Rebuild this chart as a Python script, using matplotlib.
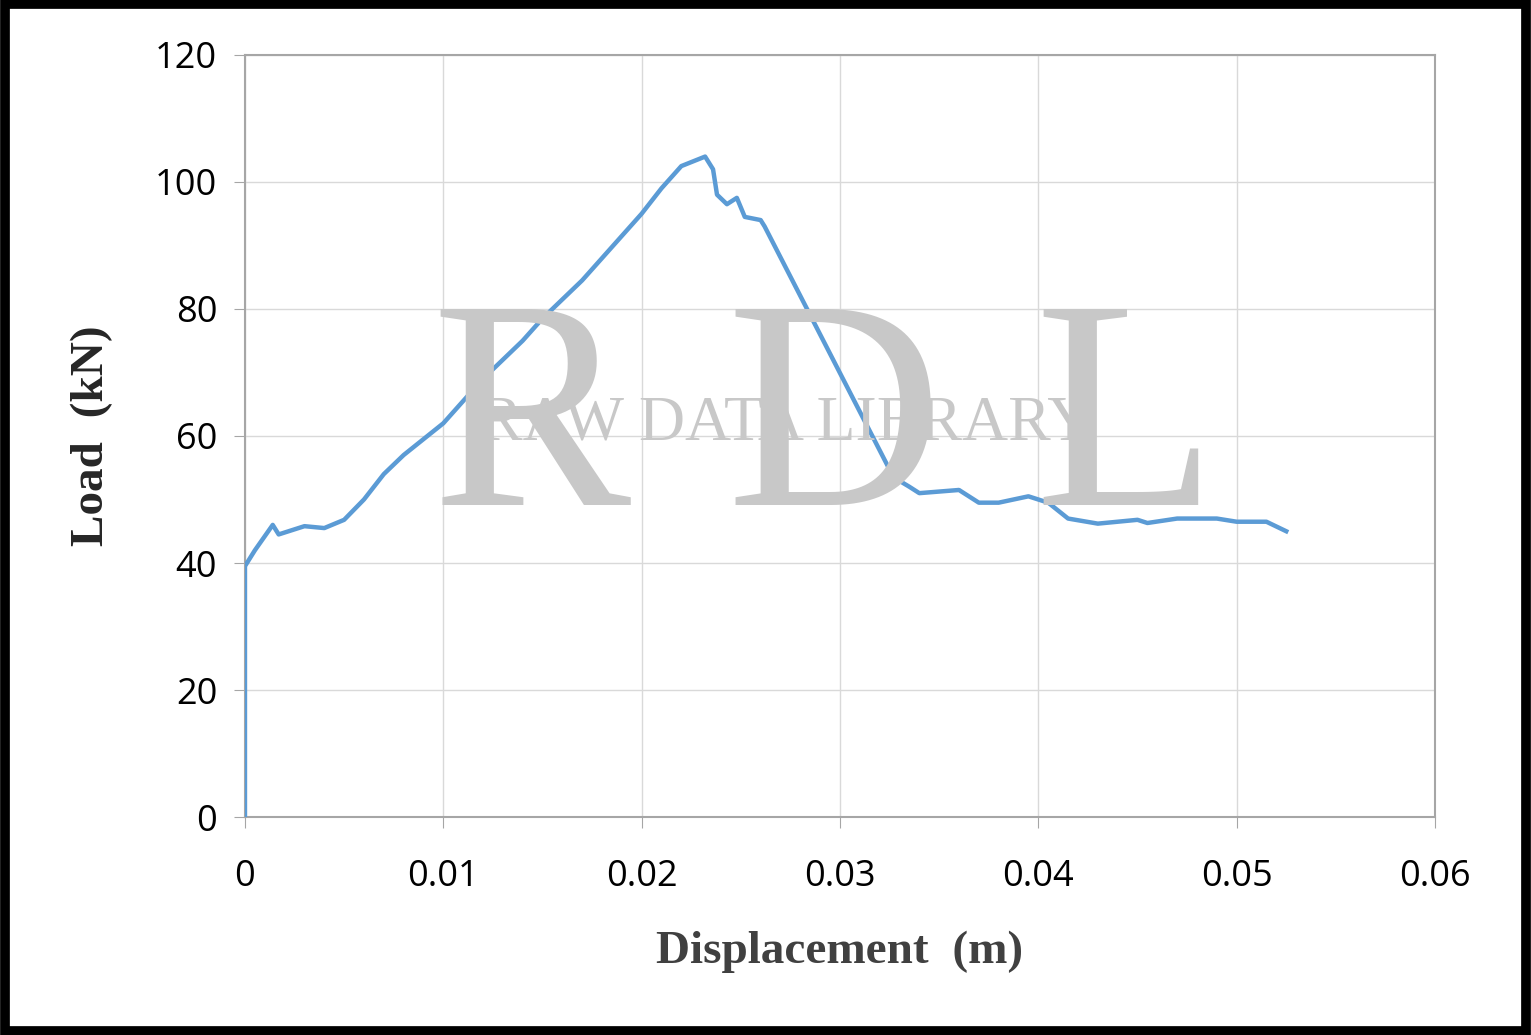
import matplotlib.pyplot as plt
from matplotlib.patches import Rectangle

disp = [0, 0, 0.0005, 0.0014, 0.0017, 0.003, 0.004, 0.005, 0.006, 0.007, 0.008, 0.009,
        0.010, 0.011, 0.012, 0.013, 0.014, 0.015, 0.016, 0.017, 0.018, 0.019, 0.020,
        0.021, 0.022, 0.0232, 0.0236, 0.0238, 0.0243, 0.0248, 0.0252, 0.026, 0.0262,
        0.0327, 0.0335, 0.034, 0.036, 0.0365, 0.037, 0.038, 0.0395, 0.0405, 0.0415,
        0.043, 0.045, 0.0455, 0.047, 0.049, 0.050, 0.0515, 0.0525]
load = [0, 39.5, 42, 46, 44.5, 45.8, 45.5, 46.8, 50, 54, 57, 59.5,
        62, 65.5, 69, 72, 75, 78.5, 81.5, 84.5, 88, 91.5, 95,
        99, 102.5, 104, 102, 98, 96.5, 97.5, 94.5, 94, 93,
        53.5, 52, 51, 51.5, 50.5, 49.5, 49.5, 50.5, 49.5, 47,
        46.2, 46.8, 46.3, 47, 47, 46.5, 46.5, 45]

plt.rcParams['font.family'] = ['Open Sans', 'DejaVu Sans']
fig = plt.figure(figsize=(15.31, 10.35), dpi=100)
ax = fig.add_axes([0.16, 0.2106, 0.7773, 0.7363])

# watermark
for letter, xf in [('R', 0.347), ('D', 0.545), ('L', 0.735)]:
    fig.text(xf, 0.512, letter, fontsize=215, family='Liberation Serif', color='#c8c8c8',
             ha='center', va='baseline', zorder=0)
fig.text(0.514, 0.575, 'RAW DATA LIBRARY', fontsize=46, family='Liberation Serif',
         color='#c8c8c8', ha='center', va='baseline', zorder=0)
ax.patch.set_alpha(0)

ax.plot(disp, load, color='#5b9bd5', lw=3.2, zorder=3)
ax.set_xlim(0, 0.06)
ax.set_ylim(0, 120)
ax.set_xticks([0, 0.01, 0.02, 0.03, 0.04, 0.05, 0.06])
ax.set_xticklabels(['0', '0.01', '0.02', '0.03', '0.04', '0.05', '0.06'])
ax.set_yticks(range(0, 121, 20))
ax.grid(color='#d9d9d9', lw=1)
for s in ax.spines.values():
    s.set_color('#a6a6a6')
    s.set_linewidth(1.5)
ax.tick_params(labelsize=26, length=8, color='#a6a6a6', pad=12)
ax.tick_params(axis='x', pad=22)
ax.set_xlabel('Displacement  (m)', fontsize=34, family='Liberation Serif',
              fontweight='bold', color='#404040', labelpad=26)
ax.set_ylabel('Load  (kN)', fontsize=34, family='Liberation Serif',
              fontweight='bold', color='#262626', labelpad=30)

fig.patches.append(Rectangle((0.003, 0.004), 0.994, 0.992, transform=fig.transFigure,
                             fill=False, ec='black', lw=7))
fig.savefig('out.png', dpi=100)
